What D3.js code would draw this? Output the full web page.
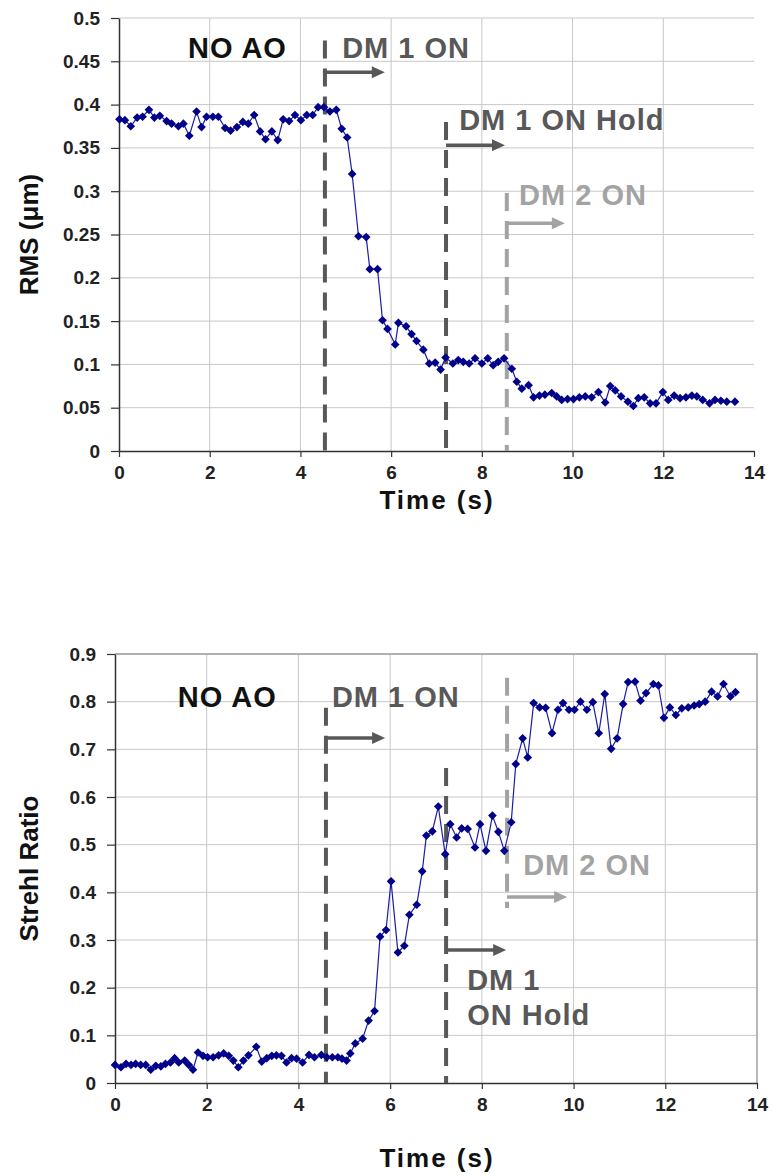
<!DOCTYPE html>
<html>
<head>
<meta charset="utf-8">
<script src="https://cdn.jsdelivr.net/npm/d3@7"></script>
<style>
  body { margin: 0; background: #fff; }
  text { font-family: "Liberation Sans", Arial, sans-serif; font-weight: bold; }
</style>
</head>
<body>
<div id="chart"></div>
<script>
// RMS wavefront error over time (top plot)
const rms_time = [0.01, 0.13, 0.26, 0.40, 0.52, 0.66, 0.78, 0.90, 1.05, 1.16, 1.31, 1.42, 1.55, 1.71, 1.82, 1.93,
  2.07, 2.19, 2.34, 2.46, 2.60, 2.73, 2.85, 2.98, 3.11, 3.23, 3.37, 3.50, 3.62, 3.75, 3.88, 4.01, 4.14, 4.27,
  4.39, 4.52, 4.65, 4.79, 4.91, 5.03, 5.14, 5.28, 5.45, 5.53, 5.70, 5.81, 5.92, 6.09, 6.16, 6.33, 6.45, 6.56,
  6.71, 6.84, 6.97, 7.09, 7.20, 7.36, 7.48, 7.59, 7.72, 7.85, 8.00, 8.13, 8.25, 8.36, 8.49, 8.66, 8.77, 8.88,
  9.03, 9.14, 9.27, 9.39, 9.54, 9.65, 9.76, 9.89, 10.02, 10.15, 10.28, 10.42, 10.57, 10.72, 10.83, 10.94,
  11.07, 11.22, 11.34, 11.45, 11.58, 11.71, 11.84, 11.99, 12.11, 12.24, 12.37, 12.50, 12.63, 12.74, 12.87,
  13.02, 13.14, 13.27, 13.40, 13.58];
const rms_values = [0.383, 0.382, 0.375, 0.385, 0.386, 0.394, 0.385, 0.387, 0.381, 0.378, 0.375, 0.378, 0.364,
  0.392, 0.374, 0.386, 0.386, 0.386, 0.373, 0.370, 0.374, 0.380, 0.378, 0.388, 0.369, 0.360, 0.369, 0.359,
  0.383, 0.381, 0.388, 0.382, 0.388, 0.388, 0.397, 0.397, 0.392, 0.394, 0.372, 0.362, 0.320, 0.248, 0.247,
  0.210, 0.210, 0.151, 0.141, 0.123, 0.148, 0.144, 0.135, 0.127, 0.117, 0.101, 0.102, 0.094, 0.108, 0.101,
  0.105, 0.103, 0.101, 0.107, 0.101, 0.107, 0.099, 0.103, 0.107, 0.095, 0.080, 0.072, 0.076, 0.062, 0.064,
  0.065, 0.067, 0.063, 0.059, 0.060, 0.060, 0.062, 0.063, 0.062, 0.068, 0.056, 0.075, 0.070, 0.063, 0.057,
  0.052, 0.061, 0.062, 0.055, 0.055, 0.068, 0.059, 0.064, 0.061, 0.062, 0.064, 0.063, 0.059, 0.055, 0.059,
  0.058, 0.057, 0.057];

// Strehl ratio over time (bottom plot)
const strehl_time = [0.00, 0.13, 0.24, 0.35, 0.45, 0.56, 0.67, 0.78, 0.89, 1.00, 1.10, 1.21, 1.30, 1.39, 1.52,
  1.61, 1.70, 1.81, 1.92, 2.02, 2.14, 2.26, 2.37, 2.48, 2.58, 2.69, 2.80, 2.91, 3.08, 3.20, 3.31, 3.42, 3.52,
  3.63, 3.74, 3.85, 3.96, 4.09, 4.23, 4.35, 4.50, 4.62, 4.74, 4.86, 4.95, 5.05, 5.13, 5.24, 5.40, 5.53, 5.66,
  5.78, 5.91, 6.02, 6.17, 6.31, 6.42, 6.58, 6.70, 6.79, 6.92, 7.05, 7.20, 7.31, 7.45, 7.56, 7.69, 7.85, 7.96,
  8.09, 8.23, 8.36, 8.49, 8.64, 8.74, 8.89, 9.00, 9.13, 9.26, 9.39, 9.53, 9.66, 9.77, 9.90, 10.02, 10.15,
  10.29, 10.42, 10.55, 10.68, 10.82, 10.95, 11.08, 11.19, 11.34, 11.46, 11.58, 11.74, 11.85, 11.97, 12.10,
  12.23, 12.36, 12.50, 12.63, 12.74, 12.87, 13.01, 13.14, 13.27, 13.42, 13.53];
const strehl_values = [0.038, 0.033, 0.040, 0.038, 0.040, 0.038, 0.038, 0.028, 0.036, 0.035, 0.040, 0.043,
  0.052, 0.043, 0.047, 0.038, 0.028, 0.064, 0.057, 0.054, 0.054, 0.058, 0.062, 0.057, 0.047, 0.033, 0.047,
  0.058, 0.076, 0.045, 0.052, 0.057, 0.058, 0.057, 0.043, 0.052, 0.051, 0.043, 0.059, 0.054, 0.059, 0.054,
  0.054, 0.054, 0.051, 0.047, 0.062, 0.083, 0.093, 0.131, 0.151, 0.307, 0.321, 0.423, 0.274, 0.288, 0.353,
  0.374, 0.444, 0.519, 0.528, 0.580, 0.480, 0.543, 0.515, 0.534, 0.533, 0.494, 0.543, 0.487, 0.561, 0.527,
  0.487, 0.547, 0.669, 0.723, 0.683, 0.797, 0.788, 0.787, 0.734, 0.783, 0.797, 0.783, 0.783, 0.800, 0.783,
  0.799, 0.734, 0.816, 0.701, 0.723, 0.795, 0.841, 0.842, 0.802, 0.818, 0.837, 0.834, 0.766, 0.788, 0.772,
  0.786, 0.788, 0.792, 0.795, 0.800, 0.821, 0.811, 0.837, 0.811, 0.820];

// tick labels
const time_ticks = [0, 2, 4, 6, 8, 10, 12, 14];
const rms_ticks = [0, 0.05, 0.1, 0.15, 0.2, 0.25, 0.3, 0.35, 0.4, 0.45, 0.5];
const strehl_ticks = [0, 0.1, 0.2, 0.3, 0.4, 0.5, 0.6, 0.7, 0.8, 0.9];

// event markers (time, top of dashed line, bottom of dashed line)
const rms_events = [
  { t: 4.54, y_top: 0.474, y_bot: 0, shade: 'dark' },
  { t: 7.21, y_top: 0.38, y_bot: 0, shade: 'dark' },
  { t: 8.55, y_top: 0.298, y_bot: 0, shade: 'light' }
];
const strehl_events = [
  { t: 4.60, y_top: 0.787, y_bot: 0, shade: 'dark' },
  { t: 7.22, y_top: 0.661, y_bot: 0, shade: 'dark' },
  { t: 8.55, y_top: 0.85, y_bot: 0.367, shade: 'light' }
];

// arrows (start time, end time, level)
const rms_arrows = [
  { t0: 4.54, t1: 5.86, y: 0.4375, shade: 'dark' },
  { t0: 7.21, t1: 8.51, y: 0.353, shade: 'dark' },
  { t0: 8.55, t1: 9.83, y: 0.263, shade: 'light' }
];
const strehl_arrows = [
  { t0: 4.60, t1: 5.89, y: 0.724, shade: 'dark' },
  { t0: 8.55, t1: 9.86, y: 0.39, shade: 'light' },
  { t0: 7.22, t1: 8.53, y: 0.279, shade: 'dark' }
];

// labels
const rms_labels = [
  { text: 'NO AO', t: 1.52, y: 0.454, shade: 'black' },
  { text: 'DM 1 ON', t: 4.92, y: 0.454, shade: 'dark' },
  { text: 'DM 1 ON Hold', t: 7.5, y: 0.3706, shade: 'dark' },
  { text: 'DM 2 ON', t: 8.82, y: 0.284, shade: 'light' }
];
const strehl_labels = [
  { text: 'NO AO', t: 1.37, y: 0.789, shade: 'black' },
  { text: 'DM 1 ON', t: 4.73, y: 0.789, shade: 'dark' },
  { text: 'DM 2 ON', t: 8.9, y: 0.436, shade: 'light' },
  { text: 'DM 1', t: 7.68, y: 0.195, shade: 'dark' },
  { text: 'ON Hold', t: 7.68, y: 0.122, shade: 'dark' }
];

const SHADES = { black: '#111111', dark: '#585858', light: '#a3a3a3' };
const LINE_COLOR = '#1c1ca6';
const MARK_COLOR = '#00008b';

const svg = d3.select('#chart')
  .append('svg')
  .attr('width', 773)
  .attr('height', 1175);

svg.append('rect').attr('width', 773).attr('height', 1175).attr('fill', '#fff');

/**
 * Draws one time series panel
 */
function plot_panel (opts) {
  const x = d3.scaleLinear().domain([0, 14]).range([opts.left, opts.right]);
  const y = d3.scaleLinear().domain([0, opts.y_max]).range([opts.bottom, opts.top]);
  const g = svg.append('g');

  // grid
  g.append('g')
    .selectAll('line')
    .data(opts.y_ticks.filter((d) => d > 0))
    .join('line')
    .attr('x1', x(0))
    .attr('x2', x(14))
    .attr('y1', (d) => y(d))
    .attr('y2', (d) => y(d))
    .attr('stroke', '#c8c8c8')
    .attr('stroke-width', 1);

  g.append('g')
    .selectAll('line')
    .data(time_ticks.filter((d) => d > 0 && d < 14))
    .join('line')
    .attr('x1', (d) => x(d))
    .attr('x2', (d) => x(d))
    .attr('y1', y(opts.y_max))
    .attr('y2', y(0))
    .attr('stroke', '#c8c8c8')
    .attr('stroke-width', 1);

  if (opts.frame) {
    g.append('path')
      .attr('d', `M${x(0)},${y(opts.y_max)}H${x(14)}V${y(0)}`)
      .attr('fill', 'none')
      .attr('stroke', '#a0a0a0')
      .attr('stroke-width', 1.5);
  }

  // axes
  const y_axis = g.append('g')
    .attr('transform', `translate(${x(0)},0)`)
    .call(d3.axisLeft(y)
      .tickValues(opts.y_ticks)
      .tickFormat(d3.format('~g'))
      .tickSize(8)
      .tickSizeOuter(0)
      .tickPadding(11));

  const x_axis = g.append('g')
    .attr('transform', `translate(0,${y(0)})`)
    .call(d3.axisBottom(x)
      .tickValues(time_ticks)
      .tickFormat(d3.format('d'))
      .tickSize(6)
      .tickSizeOuter(0)
      .tickPadding(9));

  [y_axis, x_axis].forEach((a) => {
    a.select('.domain').attr('stroke', '#333').attr('stroke-width', 1.5);
    a.selectAll('.tick line').attr('stroke', '#333').attr('stroke-width', 1.2);
    a.selectAll('.tick text')
      .style('font-size', '19px')
      .style('font-family', '"Liberation Sans", Arial, sans-serif')
      .style('font-weight', 'bold')
      .attr('fill', '#222');
  });

  // axis titles
  g.append('text')
    .attr('x', 437)
    .attr('y', y(0) + opts.title_gap)
    .attr('text-anchor', 'middle')
    .style('font-size', '26px')
    .style('letter-spacing', '2px')
    .attr('fill', '#111')
    .text('Time (s)');

  g.append('text')
    .attr('transform', `translate(38,${(y(0) + y(opts.y_max)) / 2}) rotate(-90)`)
    .attr('text-anchor', 'middle')
    .style('font-size', '26px')
    .attr('fill', '#111')
    .text(opts.y_title);

  // event dashed lines
  g.append('g')
    .selectAll('line')
    .data(opts.events)
    .join('line')
    .attr('x1', (d) => x(d.t))
    .attr('x2', (d) => x(d.t))
    .attr('y1', (d) => y(d.y_top))
    .attr('y2', (d) => y(d.y_bot))
    .attr('stroke', (d) => SHADES[d.shade])
    .attr('stroke-width', 4)
    .attr('stroke-dasharray', '18,10');

  // arrows
  opts.arrows.forEach((a) => {
    const x0 = x(a.t0);
    const x1 = x(a.t1);
    const yy = y(a.y);
    g.append('line')
      .attr('x1', x0)
      .attr('x2', x1 - 10)
      .attr('y1', yy)
      .attr('y2', yy)
      .attr('stroke', SHADES[a.shade])
      .attr('stroke-width', 3.5);
    g.append('path')
      .attr('d', `M${x1},${yy}L${x1 - 13},${yy - 6}L${x1 - 13},${yy + 6}Z`)
      .attr('fill', SHADES[a.shade]);
  });

  // annotation text
  g.append('g')
    .selectAll('text')
    .data(opts.labels)
    .join('text')
    .attr('x', (d) => x(d.t))
    .attr('y', (d) => y(d.y))
    .style('font-size', '29px')
    .style('letter-spacing', '1px')
    .attr('fill', (d) => SHADES[d.shade])
    .text((d) => d.text);

  // series
  const pts = opts.times.map((t, i) => ({ t: t, v: opts.values[i] }));
  g.append('path')
    .datum(pts)
    .attr('fill', 'none')
    .attr('stroke', LINE_COLOR)
    .attr('stroke-width', 1.2)
    .attr('d', d3.line()
      .x((d) => x(d.t))
      .y((d) => y(d.v)));

  g.append('g')
    .selectAll('path')
    .data(pts)
    .join('path')
    .attr('transform', (d) => `translate(${x(d.t)},${y(d.v)})`)
    .attr('d', d3.symbol(d3.symbolDiamond2, 48))
    .attr('fill', MARK_COLOR);
}

plot_panel({
  left: 119, right: 754, top: 18, bottom: 451,
  y_max: 0.5, y_ticks: rms_ticks, y_title: 'RMS (μm)',
  times: rms_time, values: rms_values,
  events: rms_events, arrows: rms_arrows, labels: rms_labels,
  frame: false, title_gap: 58
});

plot_panel({
  left: 115, right: 757, top: 654, bottom: 1083,
  y_max: 0.9, y_ticks: strehl_ticks, y_title: 'Strehl Ratio',
  times: strehl_time, values: strehl_values,
  events: strehl_events, arrows: strehl_arrows, labels: strehl_labels,
  frame: true, title_gap: 84
});
</script>
</body>
</html>
